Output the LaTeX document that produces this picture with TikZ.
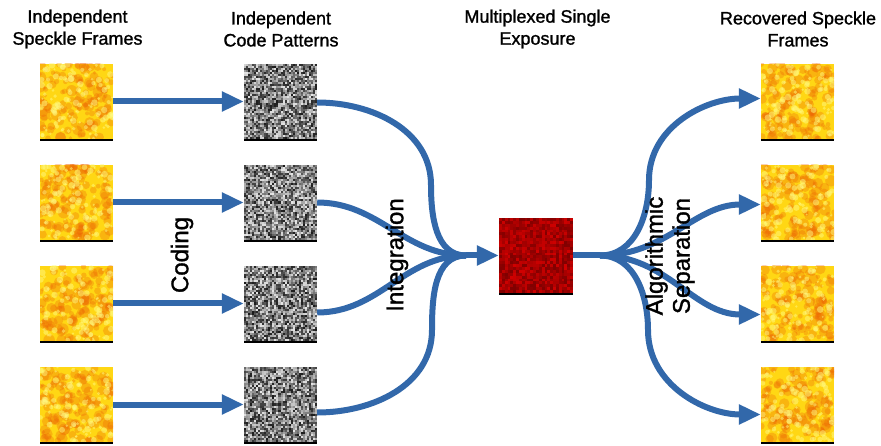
\documentclass[tikz,border=0pt]{standalone}
\usepackage{fontspec}
\setmainfont{Liberation Sans}[FakeBold=1.3]
\usetikzlibrary{arrows.meta}
\definecolor{flowblue}{RGB}{50,104,170}
\definecolor{spY}{RGB}{255,215,20}
\definecolor{spO}{RGB}{238,100,5}
\definecolor{spL}{RGB}{255,250,130}
\newcommand\specklesq[2]{%
 \begin{scope}[shift={(#1,-#2)}]
  \begin{scope}
   \clip (0,0) rectangle (73,-75);
   \fill[spY] (0,0) rectangle (73,-75);
   \foreach \k in {1,...,130}{\pgfmathsetmacro\rr{1.8+rnd*4}\fill[spO,opacity=0.3] (rnd*73,-rnd*75) circle[radius=\rr];}
   \foreach \k in {1,...,120}{\pgfmathsetmacro\rr{1+rnd*2.4}\fill[spL,opacity=0.5] (rnd*73,-rnd*75) circle[radius=\rr];}
  \end{scope}
  \draw[black,line width=2.5pt] (0,-76) -- (73,-76);
 \end{scope}}
\newcommand\codesq[2]{%
 \begin{scope}[shift={(#1,-#2)}]
  \fill[black!50] (0,0) rectangle (73,-75);
  \foreach \i in {0,...,35}{\foreach \j in {0,...,36}{%
    \pgfmathsetmacro\g{int(10+rnd*80)}%
    \fill[black!\g] (\i*73/36,-\j*75/37) rectangle ++(73/36+0.15,-75/37-0.15);}}
  \draw[black,line width=2.5pt] (0,-76) -- (73,-76);
 \end{scope}}
\newcommand\redsq[2]{%
 \begin{scope}[shift={(#1,-#2)}]
  \foreach \i in {0,...,25}{\foreach \j in {0,...,25}{%
    \pgfmathsetmacro\g{int(50+rnd*32)}%
    \fill[red!\g!black] (\i*74/26,-\j*75/26) rectangle ++(74/26+0.15,-75/26-0.15);}}
  \draw[black,line width=2.5pt] (0,-76) -- (74,-76);
 \end{scope}}
\tikzset{
 sq/.style={minimum width=73pt,minimum height=75pt,inner sep=0pt},
 flow/.style={draw=flowblue,line width=6pt},
 tip/.style={-{Triangle[length=22pt,width=19pt]}},
 title/.style={align=center,inner sep=0pt,font=\fontsize{18}{22}\selectfont},
 lab/.style={rotate=90,inner sep=0pt,align=center,font=\fontsize{24}{27}\selectfont}
}
\begin{document}
\begin{tikzpicture}[x=1pt,y=1pt]
\useasboundingbox (0,0) rectangle (881,-446);
\pgfmathsetseed{11}
% textures
\foreach \yy in {64,165,266,367}{\specklesq{40}{\yy}\codesq{244}{\yy}\specklesq{761}{\yy}}
\redsq{499}{218}
% nodes
\node[sq] (s1) at (76.5,-101.5) {};
\node[sq] (s2) at (76.5,-202.5) {};
\node[sq] (s3) at (76.5,-303.5) {};
\node[sq] (s4) at (76.5,-404.5) {};
\node[sq] (c1) at (280.5,-101.5) {};
\node[sq] (c2) at (280.5,-202.5) {};
\node[sq] (c3) at (280.5,-303.5) {};
\node[sq] (c4) at (280.5,-404.5) {};
\node[sq] (r1) at (797.5,-101.5) {};
\node[sq] (r2) at (797.5,-202.5) {};
\node[sq] (r3) at (797.5,-303.5) {};
\node[sq] (r4) at (797.5,-404.5) {};
\node[sq,minimum width=74pt] (m) at (536,-255.5) {};
\coordinate (jin) at (466,-255.5);
\coordinate (jout) at (600,-255.5);
% coding arrows
\draw[flow,tip] (s1.east) -- (c1.west);
\draw[flow,tip] (s2.east) -- (c2.west);
\draw[flow,tip] (s3.east) -- (c3.west);
\draw[flow,tip] (s4.east) -- (c4.west);
% integration
\draw[flow] ([yshift=-1pt]c1.east) to[out=0,in=90] (431,-185) to[out=-90,in=180] (jin);
\draw[flow] (c2.east) to[out=0,in=180] (jin);
\draw[flow] ([yshift=-9pt]c3.east) to[out=0,in=180] (jin);
\draw[flow] ([yshift=-8pt]c4.east) to[out=0,in=-90] (432,-330) to[out=90,in=180] (jin);
\draw[flow,tip] (jin) -- (m.west);
% separation
\draw[flow] (m.east) -- (jout);
\draw[flow,tip] (jout) to[out=0,in=-90] (649,-180) to[out=90,in=180] ([yshift=3pt]r1.west);
\draw[flow,tip] (jout) to[out=0,in=180] ([yshift=-2pt]r2.west);
\draw[flow,tip] (jout) to[out=0,in=180] ([yshift=-11pt]r3.west);
\draw[flow,tip] (jout) to[out=0,in=90] (648,-330) to[out=-90,in=180] ([yshift=-10pt]r4.west);
% labels
\node[lab] (tcod) at (182,-255) {Coding};
\node[lab] (tint) at (397,-255) {Integration};
\node[lab] (tsep) at (670,-256) {Algorithmic\\Separation};
% titles
\node[title] (h1) at (77.5,-29) {Independent\\Speckle Frames};
\node[title] (h2) at (281,-29) {Independent\\Code Patterns};
\node[title] (h3) at (537.5,-29) {Multiplexed Single\\Exposure};
\node[title] (h4) at (798,-29) {Recovered Speckle\\Frames};
\end{tikzpicture}
\end{document}
